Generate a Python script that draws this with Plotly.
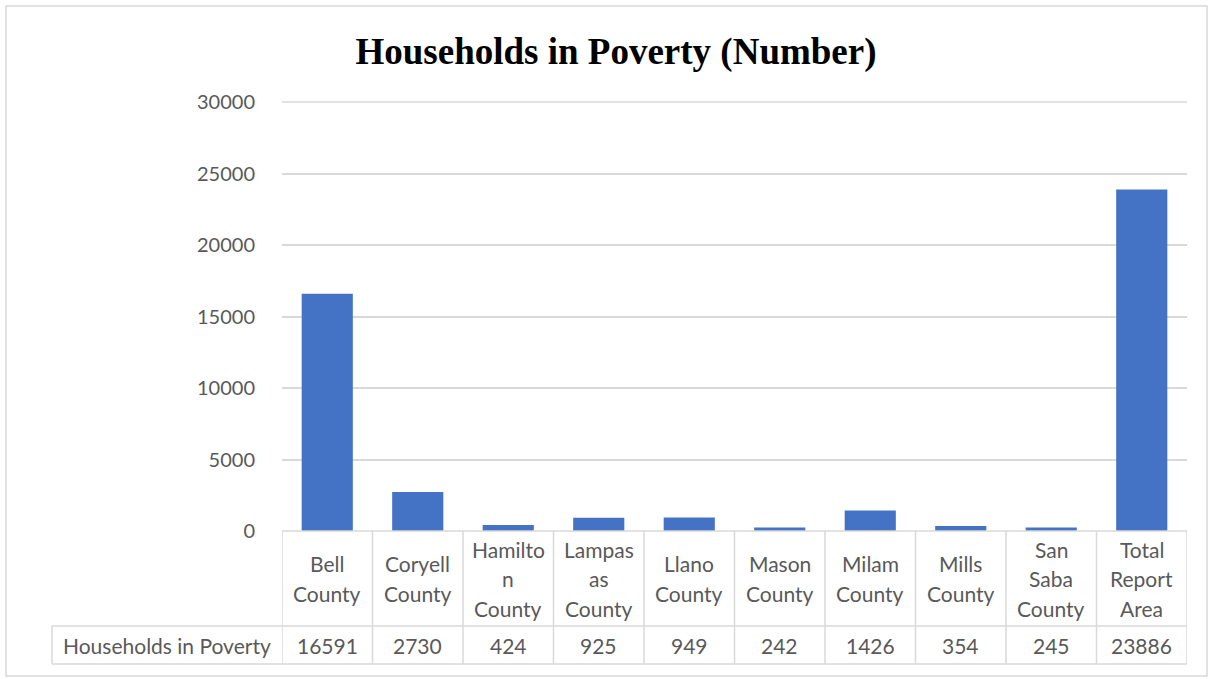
import plotly.graph_objects as go

# Households in poverty by county
categories = ["Bell County", "Coryell County", "Hamilton County", "Lampas as County",
              "Llano County", "Mason County", "Milam County", "Mills County",
              "San Saba County", "Total Report Area"]
# wrapped labels as shown in the data table (one list of lines per column)
cat_lines = [["Bell", "County"], ["Coryell", "County"], ["Hamilto", "n", "County"],
             ["Lampas", "as", "County"], ["Llano", "County"], ["Mason", "County"],
             ["Milam", "County"], ["Mills", "County"], ["San", "Saba", "County"],
             ["Total", "Report", "Area"]]
households = [16591, 2730, 424, 925, 949, 242, 1426, 354, 245, 23886]
series_name = "Households in Poverty"
y_ticks = [0, 5000, 10000, 15000, 20000, 25000, 30000]
y_max = 30000

W, H = 1212, 679
ml, mr, mt, mb = 282, 25, 102, 148
pw, ph = W - ml - mr, H - mt - mb

def px_to_paper_x(px):
    return (px - ml) / pw

def py_to_paper_y(py):
    return (H - mb - py) / ph

grid = "#d9d9d9"
txt = "#595959"
font_family = "Lato, Calibri, Carlito, sans-serif"
table_font = dict(family=font_family, size=21, color=txt)
line_step = 29.5

n = len(categories)
xs = list(range(n))

fig = go.Figure(go.Bar(x=xs, y=households, marker_color="#4472C4",
                       marker_line_width=0, name=series_name))

shapes = []
annotations = []

row1_bottom = py_to_paper_y(626)
row2_bottom = py_to_paper_y(664)
left_header = px_to_paper_x(52)

# top gridline on the plot edge (plotly skips grid lines there)
shapes.append(dict(type="line", xref="paper", yref="paper", x0=0, x1=1, y0=1, y1=1,
                   line=dict(color=grid, width=1.5), layer="below"))

# table: top border and row dividers
shapes.append(dict(type="line", xref="paper", yref="paper", x0=0, x1=1, y0=0, y1=0,
                   line=dict(color=grid, width=1.5)))
for yy in (row1_bottom, row2_bottom):
    shapes.append(dict(type="line", xref="paper", yref="paper", x0=left_header, x1=1,
                       y0=yy, y1=yy, line=dict(color=grid, width=1.5)))
shapes.append(dict(type="line", xref="paper", yref="paper", x0=left_header, x1=left_header,
                   y0=row1_bottom, y1=row2_bottom, line=dict(color=grid, width=1.5)))
# column dividers
for i in range(n + 1):
    shapes.append(dict(type="line", xref="x", yref="paper", x0=i - 0.5, x1=i - 0.5,
                       y0=0, y1=row2_bottom, line=dict(color=grid, width=1.5)))

# outer chart border
shapes.append(dict(type="rect", xref="paper", yref="paper",
                   x0=px_to_paper_x(6), x1=px_to_paper_x(1207),
                   y0=py_to_paper_y(676), y1=py_to_paper_y(6),
                   line=dict(color=grid, width=1.5), fillcolor="rgba(0,0,0,0)", layer="below"))

# category cells, one annotation per text line
row1_mid = (0 + row1_bottom) / 2
for i in range(n):
    lines = cat_lines[i]
    k = len(lines)
    for j, ln in enumerate(lines):
        shift = ((k - 1) / 2 - j) * line_step
        annotations.append(dict(x=xs[i], xref="x", y=row1_mid, yref="paper", yshift=shift,
                                text=ln, showarrow=False, xanchor="center",
                                yanchor="middle", font=table_font))
    annotations.append(dict(x=xs[i], xref="x", y=(row1_bottom + row2_bottom) / 2, yref="paper",
                            text=str(households[i]), showarrow=False, xanchor="center",
                            yanchor="middle", font=table_font))
annotations.append(dict(x=(left_header + 0) / 2, xref="paper",
                        y=(row1_bottom + row2_bottom) / 2, yref="paper",
                        text=series_name, showarrow=False, xanchor="center", yanchor="middle",
                        font=table_font))

fig.update_layout(
    width=W, height=H,
    margin=dict(l=ml, r=mr, t=mt, b=mb, autoexpand=False),
    paper_bgcolor="white", plot_bgcolor="white",
    title=dict(text="<b>Households in Poverty (Number)</b>", x=(355 + 877) / 2 / W,
               xanchor="center", y=1 - 51 / H, yanchor="middle",
               font=dict(family="Liberation Serif, Times New Roman, serif", size=37,
                         color="black")),
    bargap=0.435,
    showlegend=False,
    shapes=shapes,
    annotations=annotations,
    xaxis=dict(range=[-0.5, n - 0.5], showticklabels=False, showgrid=False,
               zeroline=False, showline=False, ticks=""),
    yaxis=dict(range=[0, y_max], tickvals=y_ticks, tickformat="d", showgrid=True,
               gridcolor=grid, gridwidth=1.5, zeroline=False, showline=False,
               ticks="outside", ticklen=22, tickcolor="rgba(0,0,0,0)",
               tickfont=dict(family=font_family, size=20, color=txt)),
)

fig.write_html("out.html")
